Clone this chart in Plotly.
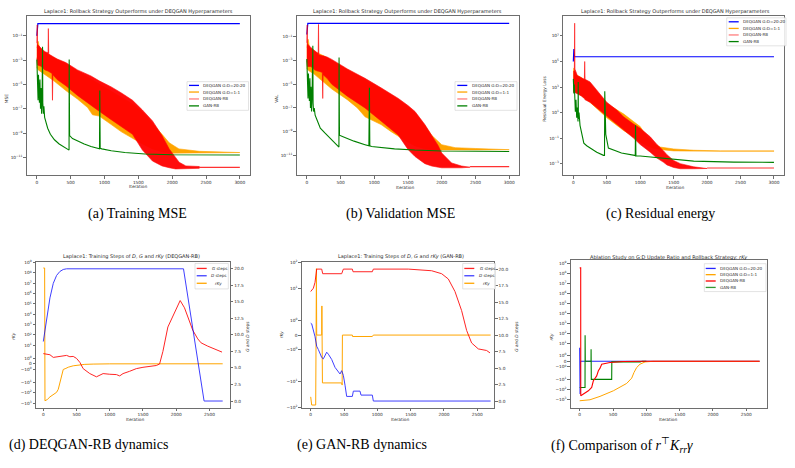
import numpy as np
import plotly.graph_objects as go

W, H = 795, 468

# ======================= DATA =======================
# ---- (a) Training MSE : iteration / log10(MSE) ----
a_blue_it = [0, 15, 3000]
a_blue_lg = [-1.0, 0.0, 0.0]

a_org_it = [0, 20, 40, 100, 250, 428, 600, 750, 823, 921, 1100, 1250, 1414, 1560, 1709, 1850, 1956, 2100, 2400, 2700, 3000]
a_org_hi = [-2.0, -1.45, -2.0, -2.3, -2.8, -3.3, -3.9, -4.4, -4.6, -4.9, -5.5, -6.0, -6.6, -7.3, -8.2, -9.1, -9.8, -10.3, -10.5, -10.55, -10.57]
a_org_lo = [-3.6, -3.8, -3.9, -4.1, -4.7, -5.5, -6.2, -6.9, -7.5, -7.6, -8.3, -8.9, -9.4, -9.9, -10.3, -10.55, -10.65, -10.65, -10.63, -10.62, -10.6]

a_red_it = [0, 5, 10, 60, 120, 165, 170, 176, 225, 231, 237, 300, 428, 600, 800, 921, 1100, 1250, 1414, 1560, 1709, 1850, 1956, 2050, 2103, 2202, 2300, 2400]
a_red_hi = [-1.6, -0.1, -1.7, -2.0, -2.3, -2.4, -0.4, -2.5, -2.7, -2.7, -2.7, -2.9, -3.2, -3.8, -4.3, -4.7, -5.2, -5.7, -6.3, -7.1, -8.0, -9.2, -10.3, -11.0, -11.4, -11.7, -11.72, -11.75]
a_red_lo = [-2.8, -3.0, -3.4, -3.5, -3.8, -3.9, -3.9, -3.9, -4.1, -6.3, -4.2, -4.6, -5.1, -5.9, -6.7, -7.2, -7.9, -8.5, -9.1, -10.4, -11.3, -11.7, -11.85, -11.95, -11.95, -11.95, -11.9, -11.9]
a_red_tail_it = [2400, 3000]
a_red_tail_lg = [-11.82, -11.82]

a_grn_it = [0, 6, 12, 18, 24, 30, 38, 46, 54, 62, 70, 78, 84, 88, 96, 104, 115, 130, 160, 200, 260, 330, 400, 460, 476, 478, 484, 527, 600, 700, 800, 900, 926, 930, 936, 960, 1100, 1300, 1600, 2000, 3000]
a_grn_lg = [-2.95, -4.8, -3.5, -6.3, -4.2, -5.8, -6.5, -4.6, -7.0, -5.3, -7.4, -6.0, -1.9, -6.5, -7.4, -6.8, -7.7, -8.1, -8.6, -9.1, -9.55, -9.9, -10.15, -10.35, -10.4, -2.95, -9.2, -9.45, -9.65, -9.9, -10.1, -10.25, -10.3, -5.5, -10.25, -10.3, -10.45, -10.6, -10.72, -10.78, -10.8]

# ---- (b) Validation MSE ----
b_blue_it = [0, 15, 3000]
b_blue_lg = [-0.8, 0.14, 0.14]

b_org_it = [0, 20, 40, 100, 250, 370, 600, 750, 863, 1100, 1250, 1357, 1500, 1604, 1750, 1850, 2000, 2200, 2500, 3000]
b_org_hi = [-1.9, -1.2, -1.9, -2.2, -2.6, -3.0, -3.7, -4.2, -4.6, -5.4, -5.9, -6.3, -6.9, -7.4, -8.5, -9.3, -10.1, -10.35, -10.42, -10.47]
b_org_lo = [-3.7, -3.8, -3.9, -4.1, -4.8, -5.4, -6.3, -7.0, -7.75, -8.4, -9.0, -9.4, -9.9, -10.2, -10.45, -10.55, -10.58, -10.57, -10.54, -10.52]

b_red_it = [0, 5, 10, 60, 120, 168, 173, 178, 230, 236, 242, 300, 370, 600, 863, 1100, 1357, 1500, 1604, 1750, 1850, 1950, 2000, 2080, 2146, 2294, 2420]
b_red_hi = [-1.5, 0.0, -1.6, -1.9, -2.2, -2.4, 0.06, -2.5, -2.6, -2.6, -2.6, -2.7, -2.9, -3.7, -4.5, -5.3, -6.2, -6.8, -7.3, -8.4, -9.3, -10.2, -10.8, -11.3, -11.64, -11.9, -11.95]
b_red_lo = [-3.0, -3.2, -3.5, -3.5, -3.8, -3.9, -3.9, -3.9, -4.0, -6.2, -4.2, -4.5, -5.0, -6.0, -7.0, -8.1, -9.3, -10.5, -11.1, -11.7, -11.9, -12.0, -12.05, -12.06, -12.06, -12.05, -12.0]
b_red_tail_it = [2420, 3000]
b_red_tail_lg = [-11.95, -11.95]

b_grn_it = [0, 6, 12, 18, 24, 30, 38, 46, 54, 62, 70, 78, 89, 93, 100, 110, 123, 150, 200, 271, 370, 469, 476, 478, 484, 528, 700, 863, 920, 928, 934, 960, 1100, 1300, 1600, 2000, 3000]
b_grn_lg = [-2.87, -4.8, -3.4, -6.2, -4.1, -5.7, -6.4, -4.5, -7.0, -5.2, -7.3, -6.0, -1.75, -6.6, -7.3, -7.0, -7.6, -8.0, -8.7, -9.13, -9.7, -10.25, -10.3, -2.73, -9.3, -9.4, -9.8, -10.1, -10.2, -5.3, -10.2, -10.25, -10.35, -10.45, -10.55, -10.63, -10.67]

# ---- (c) Residual energy loss ----
c_blue_it = [0, 8, 15, 3000]
c_blue_lg = [5.0, 5.97, 5.37, 5.37]

c_org_it = [0, 30, 100, 250, 500, 750, 900, 1000, 1100, 1200, 1300, 1500, 1800, 2200, 3000]
c_org_hi = [4.5, 4.0, 3.8, 3.3, 1.7, 0.9, 0.3, -0.1, -0.9, -1.45, -1.7, -1.85, -1.95, -2.0, -2.0]
c_org_lo = [2.7, 2.6, 2.4, 1.8, 0.6, -0.4, -0.9, -1.3, -1.6, -1.8, -1.9, -2.0, -2.02, -2.02, -2.02]

c_red_it = [0, 15, 20, 25, 60, 120, 165, 170, 176, 250, 400, 500, 650, 750, 900, 1000, 1150, 1250, 1350, 1400, 1500, 1600, 1800, 2000]
c_red_hi = [4.2, 4.3, 8.0, 4.4, 3.9, 3.7, 3.6, 5.0, 3.6, 3.4, 2.4, 1.8, 1.2, 0.67, 0.1, -0.23, -0.9, -1.5, -2.0, -2.3, -2.75, -3.0, -3.25, -3.33]
c_red_lo = [2.6, 2.6, 2.6, 2.6, 2.5, 2.3, 2.1, 2.1, 2.0, 1.8, 1.1, 0.67, 0.1, -0.36, -1.0, -1.5, -2.1, -2.56, -2.9, -3.1, -3.3, -3.4, -3.4, -3.38]
c_red_tail_it = [2000, 3000]
c_red_tail_lg = [-3.34, -3.34]

c_grn_it = [0, 8, 15, 22, 30, 40, 50, 60, 70, 73, 76, 85, 100, 120, 157, 200, 280, 350, 451, 466, 470, 476, 485, 524, 600, 720, 916, 926, 930, 936, 1000, 1308, 1800, 2400, 3000]
c_grn_lg = [3.64, 2.5, 3.2, 1.3, 1.06, 2.0, 0.6, 1.4, 0.3, 3.4, 0.5, 1.0, 0.0, -0.5, -1.4, -1.6, -1.9, -2.1, -2.35, -2.35, 2.66, 0.5, -0.7, -1.78, -1.95, -2.17, -2.35, -2.38, 0.0, -2.38, -2.4, -2.56, -2.8, -2.88, -2.9]

# ---- (d) DEQGAN-RB dynamics ----
d_G_it = [0, 50, 100, 150, 200, 300, 350, 400, 450, 500, 550, 600, 700, 800, 850, 900, 1000, 1100, 1150, 1200, 1300, 1400, 1500, 1600, 1700, 1750, 1800, 1875, 1975, 2060, 2125, 2175, 2250, 2325, 2375, 2475, 2575, 2690]
d_G = [7.17, 7.07, 7.0, 6.6, 6.7, 6.8, 6.9, 6.7, 6.75, 6.45, 5.85, 4.9, 4.15, 3.66, 3.9, 4.15, 4.05, 4.0, 3.8, 4.15, 4.5, 4.9, 5.1, 5.2, 5.37, 5.6, 7.5, 11.2, 13.4, 15.2, 14.1, 12.7, 10.7, 9.4, 8.8, 8.3, 7.9, 7.4]
d_D_it = [0, 50, 100, 150, 200, 250, 300, 350, 2110, 2420, 2700]
d_D = [9.0, 12.2, 15.6, 17.8, 19.0, 19.6, 19.9, 20.0, 20.0, 0.0, 0.0]
d_rKy_it = [0, 20, 25, 60, 100, 150, 175, 200, 225, 240, 250, 265, 275, 290, 300, 340, 375, 450, 550, 625, 750, 875, 1000, 2700]
d_rKy = [3e8, 3e8, -600, -450, -250, -150, -138, -90, -46, -20, -7.3, -4, -2.4, -1.5, -0.99, -0.8, -0.6, -0.35, -0.18, -0.1, -0.05, -0.03, -0.01, 0.0]

# ---- (e) GAN-RB dynamics ----
e_G_it = [0, 40, 65, 90, 165, 180, 465, 490, 625, 635, 925, 940, 1465, 1815, 1965, 2065, 2165, 2265, 2340, 2415, 2515, 2565, 2640, 2690]
e_G = [16.6, 17.1, 18.0, 20.0, 20.0, 19.3, 19.3, 20.0, 20.0, 19.6, 19.6, 20.0, 20.0, 19.75, 19.3, 18.5, 16.6, 13.7, 10.7, 8.8, 7.9, 7.8, 7.66, 7.3]
e_D_it = [0, 15, 65, 90, 115, 165, 190, 215, 240, 265, 315, 365, 415, 440, 465, 490, 515, 540, 625, 640, 740, 755, 925, 940, 2700]
e_D = [11.8, 11.7, 9.75, 8.3, 7.8, 6.6, 6.4, 6.8, 7.4, 7.1, 6.3, 5.1, 4.4, 4.1, 4.6, 3.9, 2.4, 0.7, 0.7, 1.5, 1.5, 0.9, 0.9, 0.0, 0.0]
e_rKy_it = [0, 8, 15, 75, 80, 86, 90, 165, 168, 172, 176, 465, 472, 476, 625, 628, 925, 940, 2700]
e_rKy = [-39, -71, -81, -81, 59, 59, 0, 0, 2.1, -11.2, -11.2, -11.2, -13.6, 0, 0, -0.1, -0.1, 0, 0]

# ---- (f) Comparison of rKy ----
f_blue_it = [0, 6, 12, 2700]
f_blue = [3.6, -300, 0, 0]
f_org_it = [0, 155, 305, 505, 705, 780, 815, 855, 905, 980, 1105, 2700]
f_org = [-1413, -1122, -513, -141, -25.7, -7.6, -2.04, -1.12, -0.52, -0.11, 0, 0]
f_red_it = [0, 15, 16, 55, 130, 180, 205, 230, 255, 280, 305, 330, 455, 655, 1005, 2700]
f_red = [3.7e8, 3.7e8, -447, -302, -141, -65, -14, -8, -4.5, -1.7, -1.24, -0.52, -0.22, -0.04, 0, 0]
f_grn_it = [0, 80, 81, 84, 170, 171, 174, 480, 482, 905, 940, 1000]
f_grn = [-65, -65, 63, 0, 0, 2.5, -10, -10, -0.1, -0.1, 0, 0]

# ======================= STYLE / HELPERS =======================
BLUE, ORANGE, RED, GREEN = '#0000ff', '#ffa500', '#ff0000', '#008000'
FRAME = '#6e6e6e'
TXT = '#2a2a2a'
FONT = 'DejaVu Sans'
TICKFS = 4.3
SMALL = 4.3


def symlog(v, lt=2.0):
    v = np.asarray(v, dtype=float)
    c = 1.0 / (1.0 - 0.1)
    a = np.abs(v)
    return np.where(a <= lt, v / lt * c,
                    np.sign(v) * (c + np.log10(np.maximum(a, 1e-300) / lt)))


def px(x):
    return x / W


def py(y):
    return 1 - y / H


fig = go.Figure()


def add_line(xa, ya, x, y, color, width=1.0, opacity=1.0):
    fig.add_trace(go.Scatter(x=list(x), y=list(y), mode='lines',
                             line=dict(color=color, width=width),
                             opacity=opacity, xaxis=xa, yaxis=ya,
                             showlegend=False, hoverinfo='skip'))


def add_band(xa, ya, it, hi, lo, color, opacity=1.0):
    xs = list(it) + list(it)[::-1]
    ys = list(hi) + list(lo)[::-1]
    fig.add_trace(go.Scatter(x=xs, y=ys, mode='lines', fill='toself',
                             fillcolor=color, line=dict(color=color, width=0.6),
                             opacity=opacity, xaxis=xa, yaxis=ya,
                             showlegend=False, hoverinfo='skip'))


def tens(v):
    return 10 ** np.asarray(v, dtype=float)


# ======================= TOP ROW =======================
top = [
    ('x', 'y', a_blue_it, a_blue_lg, a_org_it, a_org_hi, a_org_lo, a_red_it, a_red_hi, a_red_lo,
     a_red_tail_it, a_red_tail_lg, a_grn_it, a_grn_lg),
    ('x2', 'y2', b_blue_it, b_blue_lg, b_org_it, b_org_hi, b_org_lo, b_red_it, b_red_hi, b_red_lo,
     b_red_tail_it, b_red_tail_lg, b_grn_it, b_grn_lg),
    ('x3', 'y3', c_blue_it, c_blue_lg, c_org_it, c_org_hi, c_org_lo, c_red_it, c_red_hi, c_red_lo,
     c_red_tail_it, c_red_tail_lg, c_grn_it, c_grn_lg),
]
for (xa, ya, bi, bl, oi, oh, ol, ri, rh, rl, ti, tl, gi, gl) in top:
    add_line(xa, ya, bi, tens(bl), BLUE, 1.2)
    add_band(xa, ya, oi, tens(oh), tens(ol), ORANGE, 1.0)
    add_band(xa, ya, ri, tens(rh), tens(rl), RED, 0.95)
    add_line(xa, ya, ti, tens(tl), RED, 1.1, 0.8)
    add_line(xa, ya, gi, tens(gl), GREEN, 1.1)

# ======================= BOTTOM ROW =======================
add_line('x4', 'y4', d_rKy_it, symlog(d_rKy), ORANGE, 1.0)
add_line('x4', 'y7', d_G_it, d_G, RED, 1.0, 0.85)
add_line('x4', 'y7', d_D_it, d_D, BLUE, 1.0, 0.75)
add_line('x5', 'y5', e_rKy_it, symlog(e_rKy), ORANGE, 1.0)
add_line('x5', 'y8', e_G_it, e_G, RED, 1.0, 0.85)
add_line('x5', 'y8', e_D_it, e_D, BLUE, 1.0, 0.75)
add_line('x6', 'y6', f_blue_it, symlog(f_blue), BLUE, 1.1, 0.85)
add_line('x6', 'y6', f_org_it, symlog(f_org), ORANGE, 1.0)
add_line('x6', 'y6', f_grn_it, symlog(f_grn), GREEN, 1.1)
add_line('x6', 'y6', f_red_it, symlog(f_red), RED, 1.1)

# ======================= AXES =======================
base = dict(showline=True, linecolor=FRAME, linewidth=0.8, mirror=True,
            ticks='outside', ticklen=2.5, tickwidth=0.6, tickcolor=FRAME,
            showgrid=False, zeroline=False,
            tickfont=dict(family=FONT, size=TICKFS, color=TXT))

dom = {
    1: ((26.7, 250.0), (13.3, 174.0)),
    2: ((296.7, 519.3), (13.3, 174.0)),
    3: ((563.3, 784.0), (13.3, 174.0)),
    4: ((36.0, 230.0), (262.0, 409.0)),
    5: ((301.7, 494.3), (262.3, 409.0)),
    6: ((570.7, 767.3), (260.0, 409.3)),
}

xr = {1: [-150, 3150], 2: [-150, 3150], 3: [-150, 3150],
      4: [-110, 2810], 5: [-135, 2755], 6: [-135, 2815]}
xt = {1: [0, 500, 1000, 1500, 2000, 2500, 3000]}
xt[2] = xt[1]
xt[3] = xt[1]
xt[4] = [0, 500, 1000, 1500, 2000, 2500]
xt[5] = xt[4]
xt[6] = xt[4]

lay = {}
for i in range(1, 7):
    (x0, x1), (y0, y1) = dom[i]
    xn = 'xaxis' if i == 1 else f'xaxis{i}'
    yn = 'yaxis' if i == 1 else f'yaxis{i}'
    lay[xn] = dict(base, domain=[px(x0), px(x1)], range=xr[i], tickvals=xt[i],
                   anchor='y' if i == 1 else f'y{i}')
    lay[yn] = dict(base, domain=[py(y1), py(y0)], anchor='x' if i == 1 else f'x{i}')


def sup(e):
    s = str(e).replace('-', '\u2212')
    return f'10<sup>{s}</sup>'


ev_ab = [-1, -3, -5, -7, -9, -11]
lay['yaxis'].update(type='log', range=[-12.46, 0.62], tickvals=[10.0 ** e for e in ev_ab],
                    ticktext=[sup(e) for e in ev_ab])
lay['yaxis2'].update(type='log', range=[-12.67, 0.75], tickvals=[10.0 ** e for e in ev_ab],
                     ticktext=[sup(e) for e in ev_ab])
ev_c = [7, 5, 3, 1, -1, -3]
lay['yaxis3'].update(type='log', range=[-3.9, 8.55], tickvals=[10.0 ** e for e in ev_c],
                     ticktext=[sup(e) for e in ev_c])


def symticks(neg_max, pos_max):
    vals, txt = [], []
    for k in range(neg_max, -1, -1):
        vals.append(-(10.0 ** k))
        txt.append('\u2212' + sup(k))
    vals.append(0.0)
    txt.append('0')
    for k in range(0, pos_max + 1):
        vals.append(10.0 ** k)
        txt.append(sup(k))
    return list(symlog(vals)), txt


tv, tt = symticks(3, 9)
lay['yaxis4'].update(range=[-4.25, 9.85], tickvals=tv, ticktext=tt)
tv, tt = symticks(2, 2)
lay['yaxis5'].update(range=[-2.82, 2.82], tickvals=tv, ticktext=tt)
tv, tt = symticks(3, 9)
lay['yaxis6'].update(range=[-4.68, 10.15], tickvals=tv, ticktext=tt)

steps = [0, 2.5, 5, 7.5, 10, 12.5, 15, 17.5, 20]
for n, anc, ov in ((7, 'x4', 'y4'), (8, 'x5', 'y5')):
    lay[f'yaxis{n}'] = dict(base, overlaying=ov, anchor=anc, side='right', mirror=False,
                            range=[-1, 21], tickvals=steps,
                            ticktext=[f'{s:.1f}' for s in steps])

# ======================= TEXT =======================
ann = []
shapes = []


def text(x, y, s, size=SMALL, angle=0, xanchor='center', family=FONT, color=TXT):
    ann.append(dict(x=px(x), y=py(y), xref='paper', yref='paper', text=s,
                    showarrow=False, textangle=angle, xanchor=xanchor, yanchor='middle',
                    font=dict(family=family, size=size, color=color)))


TITLE1 = 'Laplace1: Rollback Strategy Outperforms under DEQGAN Hyperparameters'
text(138.5, 9.0, TITLE1, 5.0)
text(407.8, 9.0, TITLE1, 5.0)
text(675.5, 9.0, TITLE1, 5.0)
text(131.0, 256.7, 'Laplace1: Training Steps of <i>D</i>, <i>G</i> and <i>rKy</i> (DEQGAN-RB)', 5.0)
text(400.5, 256.7, 'Laplace1: Training Steps of <i>D</i>, <i>G</i> and <i>rKy</i> (GAN-RB)', 5.0)
text(669.0, 257.3, 'Ablation Study on G:D Update Ratio and Rollback Strategy: <i>rKy</i>', 5.0)

text(138.3, 185.5, 'Iteration')
text(405.0, 186.0, 'Iteration')
text(675.5, 186.0, 'Iteration')
text(135.7, 420.5, 'Iteration')
text(400.0, 420.5, 'Iteration')
text(668.3, 420.5, 'Iteration')
text(7.3, 97.0, 'MSE', angle=-90)
text(277.0, 96.7, 'VAL', angle=-90)
text(545.0, 96.7, 'Residual Energy Loss', angle=-90)
text(12.7, 336.7, '<i>rKy</i>', angle=-90)
text(281.7, 335.0, '<i>rKy</i>', angle=-90)
text(551.7, 337.3, '<i>rKy</i>', angle=-90)
text(246.7, 336.7, '<i>G</i> and <i>D</i> steps', angle=-90)
text(515.7, 336.7, '<i>G</i> and <i>D</i> steps', angle=-90)

CAP = 'Liberation Serif, Times New Roman, serif'
text(137.5, 213.0, '(a) Training MSE', 14, family=CAP, color='black')
text(400.0, 213.0, '(b) Validation MSE', 14, family=CAP, color='black')
text(660.0, 213.0, '(c) Residual energy', 14, family=CAP, color='black')
text(88.0, 447.0, '(d) DEQGAN-RB dynamics', 14, family=CAP, color='black')
text(362.0, 447.0, '(e) GAN-RB dynamics', 14, family=CAP, color='black')
text(622.0, 447.0, '(f) Comparison of <i>r</i><sup>\u22a4</sup><i>K</i><sub><i>rr</i></sub><i>\u03b3</i>',
     14, family=CAP, color='black')


def legend(box, rows, lx0, lx1, tx):
    x0, y0, x1, y1 = box
    shapes.append(dict(type='rect', xref='paper', yref='paper', x0=px(x0), x1=px(x1),
                       y0=py(y1), y1=py(y0), line=dict(color='#d0d0d0', width=0.6),
                       fillcolor='rgba(255,255,255,0.85)', layer='above'))
    for (y, color, label, op, txo) in rows:
        shapes.append(dict(type='line', xref='paper', yref='paper', x0=px(lx0), x1=px(lx1),
                           y0=py(y), y1=py(y), line=dict(color=color, width=1.3),
                           opacity=op, layer='above'))
        text(tx + txo, y, label, 4.1, xanchor='left')


top_rows = [('DEQGAN G:D=20:20', BLUE, 1.0), ('DEQGAN G:D=1:1', ORANGE, 1.0),
            ('DEQGAN-RB', RED, 0.5), ('GAN-RB', GREEN, 1.0)]
ys_ab = [83.3, 90.0, 97.0, 104.0]
legend((187.0, 79.5, 248.5, 108.5),
       [(ys_ab[k], c, l, o, 0) for k, (l, c, o) in enumerate(top_rows)], 189.0, 199.0, 201.3)
legend((455.0, 79.5, 517.0, 108.5),
       [(ys_ab[k], c, l, o, 0) for k, (l, c, o) in enumerate(top_rows)], 457.3, 467.3, 469.7)
ys_c = [19.0, 25.7, 32.3, 39.0]
legend((726.7, 15.0, 786.0, 43.3),
       [(ys_c[k], c, l, o, 0) for k, (l, c, o) in enumerate(top_rows)], 728.7, 738.7, 741.3)

dyn_rows = [(268.3, RED, '<i>G</i> steps', 0.85, 0.0), (275.7, BLUE, '<i>D</i> steps', 0.75, -0.6),
            (283.3, ORANGE, '<i>rKy</i>', 1.0, 3.3)]
legend((195.0, 263.3, 228.3, 289.0), dyn_rows, 196.7, 206.7, 210.0)
legend((462.7, 263.3, 495.5, 289.0), dyn_rows, 464.3, 474.3, 478.0)

f_rows = [('DEQGAN G:D=20:20', BLUE, 0.85), ('DEQGAN G:D=1:1', ORANGE, 1.0),
          ('DEQGAN-RB', RED, 1.0), ('GAN-RB', GREEN, 0.8)]
ys_f = [268.3, 274.6, 281.0, 287.5]
legend((704.3, 263.5, 766.0, 291.7),
       [(ys_f[k], c, l, o, 0) for k, (l, c, o) in enumerate(f_rows)], 705.7, 715.7, 718.3)

fig.update_layout(width=W, height=H, margin=dict(l=0, r=0, t=0, b=0),
                  paper_bgcolor='white', plot_bgcolor='white', showlegend=False,
                  annotations=ann, shapes=shapes, **lay)

fig.write_html('out.html')
